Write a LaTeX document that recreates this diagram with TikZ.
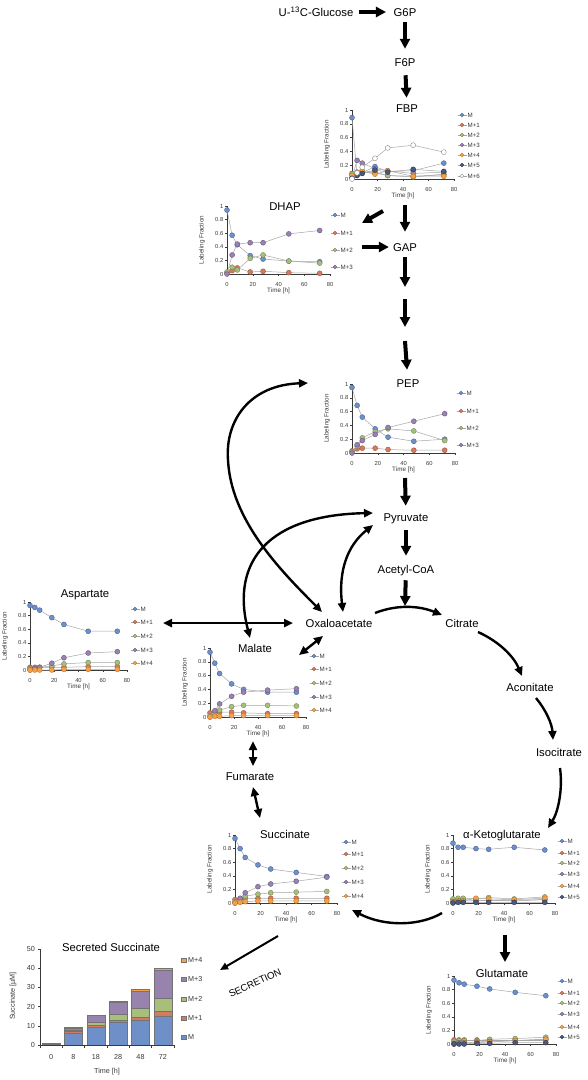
\documentclass[tikz,border=0pt]{standalone}
\usepackage{fontspec}
\setmainfont{Liberation Sans}
\usetikzlibrary{arrows.meta}
\definecolor{cM}{HTML}{6F8FC9}\definecolor{dM}{HTML}{46659A}
\definecolor{c1}{HTML}{D47B5F}\definecolor{d1}{HTML}{A0553D}
\definecolor{c2}{HTML}{A8BF7C}\definecolor{d2}{HTML}{76894F}
\definecolor{c3}{HTML}{9883AE}\definecolor{d3}{HTML}{6A5784}
\definecolor{c4}{HTML}{F6A04A}\definecolor{d4}{HTML}{C2761F}
\definecolor{c5}{HTML}{4B5A7A}\definecolor{d5}{HTML}{2C3750}
\definecolor{c6}{HTML}{FFFFFF}\definecolor{d6}{HTML}{8C8C8C}
\definecolor{serc}{HTML}{A6A6A6}
\definecolor{axc}{HTML}{3A3A3A}
\tikzset{
 lbl/.style={font=\fontsize{11.3}{13}\selectfont, inner sep=0pt, text height=8.1pt, text depth=0pt},
 blk/.style={line width=4pt, -{Triangle[width=10pt,length=10pt]}},
 cur/.style={line width=2.4pt, -{Triangle[width=8pt,length=9pt]}},
 curb/.style={line width=2.4pt, {Triangle[width=8pt,length=9pt]}-{Triangle[width=8pt,length=9pt]}},
 mk/.style={circle, inner sep=0pt, minimum size=5pt, line width=0.4pt},
 lmk/.style={circle, inner sep=0pt, minimum size=3.8pt, line width=0.35pt},
 serline/.style={serc, line width=0.5pt},
 ticklbl/.style={font=\fontsize{5.8}{6}\selectfont, text=axc, inner sep=0pt},
 axlbl/.style={font=\fontsize{6.3}{7}\selectfont, text=axc, inner sep=0pt},
 leglbl/.style={font=\fontsize{6.2}{7}\selectfont, text=axc, inner sep=0pt, anchor=west},
 sM/.style={fill=cM, draw=dM}, s1/.style={fill=c1, draw=d1}, s2/.style={fill=c2, draw=d2},
 s3/.style={fill=c3, draw=d3}, s4/.style={fill=c4, draw=d4}, s5/.style={fill=c5, draw=d5},
 s6/.style={fill=c6, draw=d6},
 bedge/.style={draw=black!55, line width=0.3pt},
 bticklbl/.style={font=\fontsize{7.2}{8}\selectfont, text=axc, inner sep=0pt},
}
\newcommand\lcaxes{%
 \draw[axc, line width=0.6pt] (0,1) -- (0,0) -- (80,0);
 \foreach \v in {0,0.2,0.4,0.6,0.8,1} \draw[axc, line width=0.4pt] (0,\v) -- ++(-1.8pt,0);
 \foreach \v/\s in {0/0,0.2/0.2,0.4/0.4,0.6/0.6,0.8/0.8,1/1} \node[ticklbl, anchor=east] at ([xshift=-3.5pt]0,\v) {\s};
 \foreach \t in {0,20,40,60,80} {\draw[axc, line width=0.4pt] (\t,0) -- ++(0,-1.8pt);
   \node[ticklbl] at ([yshift=-10pt]\t,0) {\t};}
 \node[axlbl, rotate=90] at ([xshift=-25pt]0,0.5) {Labeling Fraction};
 \node[axlbl] at ([yshift=-16.5pt]40,0) {Time [h]};
}
\newcommand\ser[8]{%
 \draw[serline] (0,#2)--(4,#3)--(8,#4)--(18,#5)--(28,#6)--(48,#7)--(72,#8);
 \foreach \t/\v in {0/#2,4/#3,8/#4,18/#5,28/#6,48/#7,72/#8} \node[mk,#1] at (\t,\v) {};
}
\newcommand\leg[4]{%
 \draw[serline] (#1-4.5,#2) -- (#1+4.5,#2);
 \node[lmk,#3] at (#1,#2) {};
 \node[leglbl] at (#1+5.5,#2) {#4};
}
\newcommand\bstack[6]{%
 \filldraw[bedge, fill=cM] (#1-9,0) rectangle (#1+9,#2);
 \filldraw[bedge, fill=c1] (#1-9,#2) rectangle (#1+9,#2+#3);
 \filldraw[bedge, fill=c2] (#1-9,#2+#3) rectangle (#1+9,#2+#3+#4);
 \filldraw[bedge, fill=c3] (#1-9,#2+#3+#4) rectangle (#1+9,#2+#3+#4+#5);
 \filldraw[bedge, fill=c4] (#1-9,#2+#3+#4+#5) rectangle (#1+9,#2+#3+#4+#5+#6);
}
\begin{document}
\begin{tikzpicture}[x=1pt,y=-1pt]
\useasboundingbox (0,0) rectangle (587,1080);
\fill[white] (0,0) rectangle (587,1080);

% ---------- metabolite labels ----------
\node[lbl] (glc) at (316,12) {U-\textsuperscript{13}C-Glucose};
\node[lbl] (g6p) at (405,12) {G6P};
\node[lbl] (f6p) at (405,62) {F6P};
\node[lbl] (fbp) at (407,108) {FBP};
\node[lbl] (dhap) at (285,206) {DHAP};
\node[lbl] (gap) at (405,247) {GAP};
\node[lbl] (pep) at (408,383) {PEP};
\node[lbl] (pyr) at (406,517) {Pyruvate};
\node[lbl] (acoa) at (406,569) {Acetyl-CoA};
\node[lbl] (oaa) at (339,623) {Oxaloacetate};
\node[lbl] (cit) at (462,623) {Citrate};
\node[lbl] (aco) at (530,687) {Aconitate};
\node[lbl] (icit) at (559,752) {Isocitrate};
\node[lbl] (akg) at (502,834) {α-Ketoglutarate};
\node[lbl] (glu) at (502,973) {Glutamate};
\node[lbl] (suc) at (285,834) {Succinate};
\node[lbl] (fum) at (250,776) {Fumarate};
\node[lbl] (mal) at (255,648) {Malate};
\node[lbl] (asp) at (85,593) {Aspartate};
\node[lbl] (ssuc) at (111,947) {Secreted Succinate};

% ---------- connector end coordinates ----------
\coordinate (fbpout) at (405,205);
\coordinate (fbpd) at (383,211);
\coordinate (dhapin) at (362,223);
\coordinate (dhapout) at (362,247);
\coordinate (ga1) at (405,287);
\coordinate (ga2s) at (405,299);
\coordinate (ga2e) at (405,327);
\coordinate (ga3s) at (405,341);
\coordinate (pepout) at (405,478);
\coordinate (acoaend) at (405,606);
\coordinate (pepin) at (308,383);
\coordinate (oaaA) at (322,612);
\coordinate (oaaB) at (343,612);
\coordinate (oaaC) at (375,613);
\coordinate (oaaD) at (323,636);
\coordinate (oaaL) at (293,623);
\coordinate (pyrA) at (373,513);
\coordinate (pyrB) at (373,525);
\coordinate (malA) at (250,638);
\coordinate (malB) at (299,655);
\coordinate (malC) at (253,741);
\coordinate (aspR) at (163,623);
\coordinate (citA) at (442,615);
\coordinate (citB) at (478,632);
\coordinate (acoA) at (522,676);
\coordinate (acoB) at (536,698);
\coordinate (icitA) at (553,740);
\coordinate (icitB) at (560,768);
\coordinate (akgA) at (548,828);
\coordinate (akgB) at (442,913);
\coordinate (akgC) at (505,935);
\coordinate (gluA) at (505,962);
\coordinate (sucA) at (352,910);
\coordinate (sucB) at (278,936);
\coordinate (fumA) at (253,766);
\coordinate (fumB) at (253,787);
\coordinate (sucC) at (260,818);
\coordinate (secr) at (220,970);

% ---------- glycolysis block arrows ----------
\draw[blk, shorten <=5pt, shorten >=7.5pt] (glc) -- (g6p);
\draw[blk, shorten <=6pt, shorten >=9pt] (g6p) -- (f6p);
\draw[blk, shorten <=9pt, shorten >=6pt] (f6p) -- (fbp);
\draw[blk, shorten >=11pt] (fbpout) -- (gap);
\draw[blk] (fbpd) -- (dhapin);
\draw[blk, shorten >=4pt] (dhapout) -- (gap);
\draw[blk, shorten <=6pt] (gap) -- (ga1);
\draw[blk] (ga2s) -- (ga2e);
\draw[blk, shorten >=9pt] (ga3s) -- (pep);
\draw[blk, shorten >=7pt] (pepout) -- (pyr);
\draw[blk, shorten <=9pt, shorten >=9pt] (pyr) -- (acoa);
\draw[blk, shorten <=7pt] (acoa) -- (acoaend);
\draw[blk] (akgC) -- (gluA);

% ---------- TCA and anaplerotic curves ----------
\draw[curb] (pepin) .. controls (250,385) and (225,420) .. (228,460) .. controls (231,520) and (280,570) .. (oaaA);
\draw[curb] (malA) .. controls (230,560) and (270,515) .. (pyrA);
\draw[curb] (oaaB) .. controls (338,570) and (348,545) .. (pyrB);
\draw[curb] (aspR) -- (oaaL);
\draw[curb] (oaaD) -- (malB);
\draw[cur] (oaaC) .. controls (398,604) and (420,606) .. (citA);
\draw[cur] (citB) .. controls (500,642) and (514,657) .. (acoA);
\draw[cur] (acoB) .. controls (546,710) and (552,724) .. (icitA);
\draw[cur] (icitB) .. controls (563,790) and (558,812) .. (akgA);
\draw[curb] (malC) -- (fumA);
\draw[curb] (fumB) -- (sucC);
\draw[cur] (akgB) .. controls (420,926) and (385,927) .. (sucA);
\draw[line width=2pt, -{Triangle[width=7pt,length=8pt]}] (sucB) -- (secr);
\node[font=\fontsize{9.7}{11}\selectfont, rotate=25, inner sep=0pt] (sec) at (255,983) {SECRETION};

% ---------- FBP ----------
\begin{scope}[shift={(352,179)}, x={({102/80*1pt},0pt)}, y={(0pt,69pt)}]
\lcaxes
\ser{sM}{0.89}{0.06}{0.09}{0.18}{0.11}{0.12}{0.23}
\ser{s1}{0.08}{0.10}{0.10}{0.09}{0.05}{0.04}{0.06}
\ser{s2}{0.07}{0.08}{0.12}{0.10}{0.05}{0.03}{0.07}
\ser{s3}{0.02}{0.27}{0.23}{0.15}{0.12}{0.08}{0.10}
\ser{s4}{0.05}{0.09}{0.11}{0.07}{0.12}{0.04}{0.04}
\ser{s5}{0.01}{0.05}{0.08}{0.13}{0.10}{0.14}{0.11}
\ser{s6}{0.00}{0.09}{0.17}{0.30}{0.45}{0.49}{0.39}
\end{scope}
\leg{462}{115}{sM}{M}\leg{462}{125}{s1}{M+1}\leg{462}{135}{s2}{M+2}\leg{462}{145}{s3}{M+3}
\leg{462}{155}{s4}{M+4}\leg{462}{165}{s5}{M+5}\leg{462}{176}{s6}{M+6}

% ---------- DHAP ----------
\begin{scope}[shift={(227,274)}, x={({103/80*1pt},0pt)}, y={(0pt,68pt)}]
\lcaxes
\ser{sM}{0.94}{0.57}{0.43}{0.27}{0.22}{0.19}{0.18}
\ser{s1}{0.02}{0.05}{0.09}{0.03}{0.04}{0.02}{0.01}
\ser{s2}{0.03}{0.10}{0.06}{0.23}{0.28}{0.19}{0.16}
\ser{s3}{0.00}{0.28}{0.44}{0.46}{0.46}{0.59}{0.64}
\end{scope}
\leg{335}{215}{sM}{M}\leg{335}{233}{s1}{M+1}\leg{335}{250}{s2}{M+2}\leg{335}{267}{s3}{M+3}

% ---------- PEP ----------
\begin{scope}[shift={(352,453)}, x={({103/80*1pt},0pt)}, y={(0pt,69pt)}]
\lcaxes
\ser{sM}{0.95}{0.69}{0.52}{0.35}{0.23}{0.17}{0.20}
\ser{s1}{0.03}{0.06}{0.07}{0.07}{0.05}{0.04}{0.04}
\ser{s2}{0.02}{0.10}{0.22}{0.31}{0.35}{0.32}{0.18}
\ser{s3}{0.00}{0.12}{0.18}{0.27}{0.37}{0.46}{0.57}
\end{scope}
\leg{461}{393}{sM}{M}\leg{461}{411}{s1}{M+1}\leg{461}{428}{s2}{M+2}\leg{461}{445}{s3}{M+3}

% ---------- Aspartate ----------
\begin{scope}[shift={(30,670)}, x={({97/80*1pt},0pt)}, y={(0pt,68pt)}]
\lcaxes
\ser{sM}{0.95}{0.92}{0.88}{0.77}{0.67}{0.57}{0.57}
\ser{s1}{0.04}{0.04}{0.04}{0.04}{0.04}{0.05}{0.05}
\ser{s2}{0.02}{0.03}{0.04}{0.06}{0.09}{0.11}{0.11}
\ser{s3}{0.00}{0.02}{0.04}{0.10}{0.18}{0.25}{0.27}
\ser{s4}{0.00}{0.00}{0.00}{0.00}{0.01}{0.01}{0.01}
\end{scope}
\leg{135}{609}{sM}{M}\leg{135}{622}{s1}{M+1}\leg{135}{636}{s2}{M+2}\leg{135}{650}{s3}{M+3}\leg{135}{663}{s4}{M+4}

% ---------- Malate ----------
\begin{scope}[shift={(210,717)}, x={({96/80*1pt},0pt)}, y={(0pt,69pt)}]
\lcaxes
\ser{sM}{0.94}{0.78}{0.63}{0.48}{0.40}{0.36}{0.36}
\ser{s1}{0.06}{0.06}{0.07}{0.07}{0.06}{0.05}{0.05}
\ser{s2}{0.02}{0.06}{0.10}{0.15}{0.17}{0.17}{0.16}
\ser{s3}{0.00}{0.09}{0.19}{0.30}{0.36}{0.39}{0.41}
\ser{s4}{0.00}{0.01}{0.01}{0.02}{0.02}{0.02}{0.02}
\end{scope}
\leg{314}{656}{sM}{M}\leg{314}{669}{s1}{M+1}\leg{314}{683}{s2}{M+2}\leg{314}{697}{s3}{M+3}\leg{314}{710}{s4}{M+4}

% ---------- Succinate ----------
\begin{scope}[shift={(235,903)}, x={({102/80*1pt},0pt)}, y={(0pt,68pt)}]
\lcaxes
\ser{sM}{0.95}{0.80}{0.67}{0.56}{0.50}{0.45}{0.39}
\ser{s1}{0.05}{0.06}{0.07}{0.07}{0.07}{0.07}{0.07}
\ser{s2}{0.02}{0.05}{0.10}{0.13}{0.15}{0.16}{0.17}
\ser{s3}{0.00}{0.07}{0.15}{0.24}{0.28}{0.32}{0.38}
\ser{s4}{0.00}{0.01}{0.02}{0.03}{0.03}{0.03}{0.03}
\end{scope}
\leg{346}{842}{sM}{M}\leg{346}{854}{s1}{M+1}\leg{346}{868}{s2}{M+2}\leg{346}{882}{s3}{M+3}\leg{346}{896}{s4}{M+4}

% ---------- alpha-KG ----------
\begin{scope}[shift={(453,903)}, x={({102/80*1pt},0pt)}, y={(0pt,68pt)}]
\lcaxes
\ser{sM}{0.88}{0.82}{0.82}{0.80}{0.79}{0.82}{0.78}
\ser{s1}{0.05}{0.05}{0.05}{0.04}{0.04}{0.04}{0.05}
\ser{s2}{0.06}{0.07}{0.07}{0.06}{0.08}{0.06}{0.09}
\ser{s3}{0.02}{0.03}{0.03}{0.03}{0.04}{0.03}{0.05}
\ser{s4}{0.01}{0.03}{0.03}{0.07}{0.06}{0.05}{0.07}
\ser{s5}{0.00}{0.01}{0.01}{0.01}{0.01}{0.01}{0.01}
\end{scope}
\leg{562}{841}{sM}{M}\leg{562}{853}{s1}{M+1}\leg{562}{863}{s2}{M+2}\leg{562}{874}{s3}{M+3}\leg{562}{886}{s4}{M+4}\leg{562}{897}{s5}{M+5}

% ---------- Glutamate ----------
\begin{scope}[shift={(454,1044)}, x={({102/80*1pt},0pt)}, y={(0pt,68pt)}]
\lcaxes
\ser{sM}{0.94}{0.90}{0.88}{0.85}{0.81}{0.76}{0.71}
\ser{s1}{0.06}{0.06}{0.06}{0.06}{0.06}{0.06}{0.06}
\ser{s2}{0.04}{0.05}{0.05}{0.05}{0.07}{0.08}{0.10}
\ser{s3}{0.01}{0.02}{0.02}{0.03}{0.04}{0.05}{0.07}
\ser{s4}{0.00}{0.01}{0.01}{0.02}{0.03}{0.05}{0.07}
\ser{s5}{0.00}{0.00}{0.00}{0.01}{0.01}{0.02}{0.02}
\end{scope}
\leg{562}{981}{sM}{M}\leg{562}{993}{s1}{M+1}\leg{562}{1003}{s2}{M+2}\leg{562}{1014}{s3}{M+3}\leg{562}{1027}{s4}{M+4}\leg{562}{1037}{s5}{M+5}

% ---------- Secreted succinate bar chart ----------
\begin{scope}[shift={(40,1045)}, y={(0pt,1.92pt)}]
\bstack{11.2}{0.6}{0.1}{0.05}{0.2}{0.05}
\bstack{33.5}{6.3}{0.8}{0.6}{1.2}{0.2}
\bstack{55.8}{9.5}{1.0}{1.6}{3.2}{0.4}
\bstack{78.2}{12.0}{1.0}{3.2}{5.9}{0.5}
\bstack{100.5}{12.8}{1.6}{4.8}{9.0}{0.7}
\bstack{122.8}{15.2}{2.2}{6.9}{14.7}{1.0}
\draw[axc, line width=0.6pt] (0,50) -- (0,0) -- (134,0);
\foreach \v in {0,10,20,30,40,50} {\draw[axc, line width=0.5pt] (0,\v) -- ++(-2.5pt,0);
  \node[bticklbl, anchor=east] at ([xshift=-5pt]0,\v) {\v};}
\foreach \i in {0,1,...,6} \draw[axc, line width=0.5pt] (\i*22.33,0) -- ++(0,-2.5pt);
\foreach \c/\l in {11.2/0,33.5/8,55.8/18,78.2/28,100.5/48,122.8/72}
  \node[bticklbl] at ([yshift=-12pt]\c,0) {\l};
\node[bticklbl, rotate=90] at ([xshift=-27pt]0,25.5) {Succinate [µM]};
\node[bticklbl] at ([yshift=-27pt]67,0) {Time [h]};
\end{scope}
\foreach \y/\s/\t in {960/c4/M+4,979/c3/M+3,999/c2/M+2,1018/c1/M+1,1037/cM/M} {
  \filldraw[bedge, fill=\s] (181.5,\y-2.3) rectangle (186,\y+2.3);
  \node[bticklbl, anchor=west] at (188,\y) {\t};}
\end{tikzpicture}
\end{document}
